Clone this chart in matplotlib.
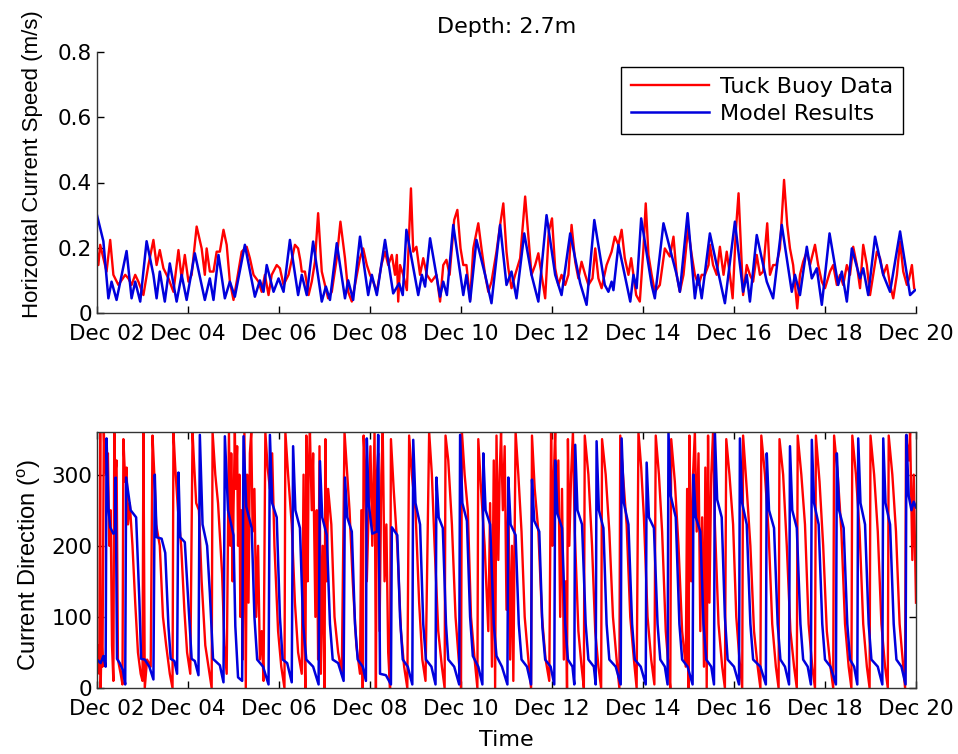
import matplotlib.pyplot as plt
import matplotlib.transforms as mtransforms
import numpy as np

plt.rcParams['font.family'] = ['DejaVu Sans']
plt.rcParams['font.size'] = 16
plt.rcParams['mathtext.fontset'] = 'custom'
plt.rcParams['mathtext.rm'] = 'Liberation Sans'

# x axis: days after Dec 02 00:00
day_ticks = [0, 2, 4, 6, 8, 10, 12, 14, 16, 18]
day_labels = ['Dec 02', 'Dec 04', 'Dec 06', 'Dec 08', 'Dec 10',
              'Dec 12', 'Dec 14', 'Dec 16', 'Dec 18', 'Dec 20']

# horizontal current speed, buoy (day, m/s)
speed_obs = [
    (0.00, 0.183), (0.03, 0.147), (0.07, 0.209), (0.14, 0.168), (0.21, 0.127), (0.29, 0.224),
    (0.36, 0.117), (0.47, 0.086), (0.62, 0.117), (0.69, 0.106), (0.76, 0.086), (0.84, 0.117),
    (0.91, 0.096), (1.02, 0.055), (1.13, 0.147), (1.24, 0.224), (1.31, 0.147), (1.38, 0.193),
    (1.46, 0.137), (1.57, 0.106), (1.68, 0.065), (1.79, 0.193), (1.86, 0.106), (1.93, 0.178),
    (2.01, 0.096), (2.08, 0.117), (2.19, 0.265), (2.30, 0.198), (2.37, 0.117), (2.41, 0.198),
    (2.48, 0.127), (2.56, 0.127), (2.63, 0.188), (2.70, 0.188), (2.78, 0.255), (2.85, 0.209),
    (2.92, 0.096), (3.00, 0.040), (3.07, 0.096), (3.18, 0.188), (3.29, 0.203), (3.36, 0.168),
    (3.44, 0.117), (3.55, 0.096), (3.62, 0.065), (3.69, 0.117), (3.77, 0.055), (3.84, 0.117),
    (3.95, 0.147), (4.02, 0.137), (4.10, 0.086), (4.21, 0.117), (4.35, 0.209), (4.42, 0.198),
    (4.47, 0.160), (4.50, 0.127), (4.57, 0.127), (4.65, 0.055), (4.72, 0.096), (4.79, 0.157),
    (4.86, 0.306), (4.94, 0.127), (5.01, 0.086), (5.08, 0.045), (5.16, 0.065), (5.27, 0.168),
    (5.35, 0.280), (5.45, 0.168), (5.52, 0.065), (5.60, 0.035), (5.67, 0.086), (5.78, 0.168),
    (5.85, 0.198), (5.93, 0.147), (6.00, 0.117), (6.07, 0.096), (6.15, 0.065), (6.25, 0.147),
    (6.33, 0.188), (6.40, 0.147), (6.48, 0.178), (6.55, 0.117), (6.59, 0.178), (6.62, 0.035),
    (6.66, 0.147), (6.73, 0.117), (6.81, 0.070), (6.90, 0.382), (6.95, 0.188), (7.02, 0.203),
    (7.10, 0.117), (7.17, 0.168), (7.25, 0.117), (7.35, 0.096), (7.46, 0.117), (7.54, 0.035),
    (7.61, 0.147), (7.68, 0.163), (7.75, 0.117), (7.85, 0.285), (7.92, 0.316), (7.99, 0.198),
    (8.05, 0.147), (8.12, 0.147), (8.20, 0.040), (8.27, 0.198), (8.38, 0.275), (8.45, 0.198),
    (8.53, 0.117), (8.60, 0.065), (8.67, 0.096), (8.78, 0.188), (8.86, 0.270), (8.93, 0.336),
    (9.00, 0.188), (9.04, 0.137), (9.11, 0.076), (9.19, 0.117), (9.30, 0.168), (9.41, 0.357),
    (9.48, 0.239), (9.55, 0.117), (9.63, 0.147), (9.70, 0.183), (9.77, 0.117), (9.85, 0.045),
    (9.93, 0.250), (10.00, 0.290), (10.07, 0.137), (10.14, 0.086), (10.21, 0.117), (10.29, 0.086),
    (10.36, 0.117), (10.43, 0.270), (10.51, 0.157), (10.58, 0.106), (10.65, 0.157), (10.73, 0.117),
    (10.80, 0.086), (10.89, 0.106), (10.95, 0.198), (11.02, 0.106), (11.09, 0.076), (11.20, 0.147),
    (11.31, 0.188), (11.38, 0.234), (11.46, 0.209), (11.53, 0.255), (11.60, 0.168), (11.68, 0.117),
    (11.74, 0.168), (11.85, 0.055), (11.93, 0.035), (12.01, 0.198), (12.06, 0.336), (12.12, 0.178),
    (12.19, 0.117), (12.26, 0.065), (12.37, 0.086), (12.48, 0.198), (12.59, 0.173), (12.67, 0.234),
    (12.74, 0.117), (12.81, 0.065), (12.89, 0.117), (12.99, 0.260), (13.07, 0.178), (13.14, 0.117),
    (13.22, 0.086), (13.29, 0.117), (13.36, 0.117), (13.44, 0.147), (13.47, 0.209), (13.54, 0.147),
    (13.62, 0.117), (13.69, 0.203), (13.77, 0.117), (13.84, 0.188), (13.91, 0.117), (13.97, 0.045),
    (14.04, 0.250), (14.10, 0.367), (14.17, 0.147), (14.20, 0.055), (14.28, 0.147), (14.35, 0.117),
    (14.42, 0.096), (14.50, 0.178), (14.57, 0.117), (14.64, 0.127), (14.73, 0.275), (14.79, 0.117),
    (14.86, 0.147), (14.93, 0.147), (15.01, 0.198), (15.10, 0.408), (15.17, 0.270), (15.23, 0.198),
    (15.30, 0.147), (15.39, 0.014), (15.45, 0.117), (15.52, 0.157), (15.60, 0.188), (15.67, 0.147),
    (15.78, 0.209), (15.85, 0.147), (15.93, 0.096), (16.00, 0.076), (16.11, 0.127), (16.18, 0.147),
    (16.26, 0.086), (16.33, 0.117), (16.40, 0.086), (16.48, 0.147), (16.55, 0.117), (16.62, 0.203),
    (16.70, 0.147), (16.77, 0.076), (16.84, 0.209), (16.92, 0.147), (16.99, 0.055), (17.06, 0.117),
    (17.14, 0.188), (17.21, 0.168), (17.28, 0.117), (17.36, 0.147), (17.43, 0.086), (17.50, 0.045),
    (17.58, 0.117), (17.65, 0.219), (17.72, 0.127), (17.80, 0.086), (17.85, 0.106), (17.91, 0.147),
    (17.96, 0.076),
]

# horizontal current speed, model (day, m/s)
speed_mod = [
    (0.00, 0.300), (0.14, 0.220), (0.25, 0.045), (0.32, 0.096), (0.43, 0.040), (0.65, 0.190),
    (0.76, 0.045), (0.84, 0.096), (0.95, 0.035), (1.09, 0.220), (1.24, 0.117), (1.31, 0.045),
    (1.38, 0.127), (1.49, 0.035), (1.60, 0.152), (1.75, 0.035), (1.86, 0.117), (1.97, 0.040),
    (2.15, 0.183), (2.37, 0.040), (2.48, 0.106), (2.56, 0.040), (2.67, 0.178), (2.81, 0.045),
    (2.92, 0.096), (3.03, 0.050), (3.25, 0.209), (3.47, 0.050), (3.58, 0.100), (3.66, 0.065),
    (3.73, 0.147), (3.88, 0.065), (3.99, 0.106), (4.10, 0.065), (4.24, 0.224), (4.42, 0.055),
    (4.50, 0.117), (4.61, 0.055), (4.75, 0.219), (4.94, 0.035), (5.03, 0.081), (5.12, 0.040),
    (5.27, 0.214), (5.45, 0.045), (5.52, 0.100), (5.63, 0.040), (5.78, 0.234), (5.96, 0.055),
    (6.04, 0.117), (6.15, 0.055), (6.33, 0.224), (6.51, 0.060), (6.64, 0.091), (6.72, 0.055),
    (6.80, 0.255), (7.06, 0.055), (7.14, 0.117), (7.21, 0.081), (7.32, 0.229), (7.54, 0.050),
    (7.61, 0.096), (7.69, 0.055), (7.83, 0.270), (8.05, 0.055), (8.12, 0.117), (8.20, 0.035),
    (8.34, 0.224), (8.53, 0.117), (8.67, 0.030), (8.86, 0.270), (9.00, 0.086), (9.11, 0.127),
    (9.22, 0.045), (9.39, 0.244), (9.55, 0.117), (9.70, 0.035), (9.88, 0.300), (10.07, 0.117),
    (10.21, 0.055), (10.40, 0.244), (10.62, 0.091), (10.76, 0.025), (10.93, 0.285), (11.16, 0.086),
    (11.24, 0.065), (11.31, 0.096), (11.35, 0.070), (11.46, 0.209), (11.72, 0.035), (11.79, 0.117),
    (11.86, 0.076), (11.96, 0.290), (12.19, 0.086), (12.26, 0.045), (12.45, 0.275), (12.74, 0.117),
    (12.81, 0.065), (12.98, 0.306), (13.14, 0.045), (13.21, 0.117), (13.29, 0.045), (13.47, 0.244),
    (13.80, 0.030), (14.02, 0.280), (14.20, 0.065), (14.28, 0.117), (14.35, 0.035), (14.50, 0.239),
    (14.72, 0.096), (14.86, 0.045), (15.05, 0.270), (15.27, 0.065), (15.34, 0.117), (15.45, 0.055),
    (15.60, 0.203), (15.71, 0.106), (15.82, 0.137), (15.93, 0.025), (16.10, 0.244), (16.29, 0.086),
    (16.37, 0.127), (16.48, 0.035), (16.59, 0.198), (16.77, 0.106), (16.84, 0.137), (16.95, 0.055),
    (17.10, 0.234), (17.28, 0.117), (17.43, 0.065), (17.65, 0.250), (17.87, 0.055), (17.98, 0.070),
]

# current direction, buoy (day, degrees)
dir_obs = [
    (0.00, 40), (0.03, 60), (0.05, 20), (0.07, 360), (0.08, 0), (0.10, 70), (0.12, 30), (0.15, 360),
    (0.17, 320), (0.20, 300), (0.24, 330), (0.27, 200), (0.30, 250), (0.33, 60), (0.36, 10), (0.38, 360),
    (0.40, 300), (0.43, 320), (0.46, 40), (0.52, 20), (0.56, 5), (0.58, 350), (0.62, 290), (0.65, 310),
    (0.68, 230), (0.72, 260), (0.78, 200), (0.84, 120), (0.90, 50), (0.96, 20), (1.00, 10), (1.02, 360),
    (1.05, 0), (1.10, 40), (1.18, 30), (1.22, 355), (1.26, 300), (1.30, 230), (1.38, 200), (1.45, 100),
    (1.52, 60), (1.60, 20), (1.66, 0), (1.68, 360), (1.72, 310), (1.78, 250), (1.85, 200), (1.92, 110),
    (1.98, 50), (2.05, 20), (2.10, 360), (2.13, 320), (2.18, 260), (2.24, 250), (2.30, 150), (2.38, 60),
    (2.45, 30), (2.52, 0), (2.54, 360), (2.60, 300), (2.66, 260), (2.75, 160), (2.80, 60), (2.85, 20),
    (2.90, 360), (2.93, 200), (2.95, 330), (2.98, 150), (3.00, 250), (3.03, 360), (3.05, 280), (3.08, 340),
    (3.10, 200), (3.13, 300), (3.15, 100), (3.18, 250), (3.20, 40), (3.24, 360), (3.27, 0), (3.30, 300),
    (3.33, 120), (3.36, 330), (3.39, 360), (3.42, 220), (3.46, 280), (3.50, 100), (3.54, 200), (3.58, 40),
    (3.62, 80), (3.66, 10), (3.70, 360),
    (3.75, 310), (3.80, 280), (3.85, 330), (3.90, 200), (3.98, 80), (4.05, 30), (4.12, 0), (4.14, 360),
    (4.20, 300), (4.28, 230), (4.35, 120), (4.42, 50), (4.50, 20), (4.54, 300), (4.56, 60), (4.58, 0),
    (4.60, 355), (4.63, 150), (4.65, 300), (4.68, 360), (4.72, 250), (4.75, 330), (4.80, 100), (4.83, 250),
    (4.86, 40), (4.89, 340), (4.92, 20), (4.96, 200), (5.00, 0), (5.02, 350), (5.05, 150), (5.08, 280),
    (5.15, 230), (5.22, 100), (5.30, 50), (5.38, 20), (5.44, 360), (5.48, 320), (5.55, 250), (5.62, 150),
    (5.70, 60), (5.78, 20), (5.81, 250), (5.84, 0), (5.86, 355), (5.90, 300), (5.93, 150), (5.97, 250),
    (6.01, 340), (6.05, 200), (6.10, 360), (6.13, 0), (6.15, 300), (6.18, 330), (6.21, 80), (6.25, 300),
    (6.28, 360), (6.32, 150), (6.36, 230), (6.40, 50), (6.44, 0), (6.46, 350), (6.52, 280), (6.60, 200),
    (6.68, 80), (6.75, 30), (6.82, 0), (6.86, 355), (6.92, 300), (7.00, 250), (7.08, 120), (7.15, 40),
    (7.22, 10), (7.30, 360), (7.36, 300), (7.42, 200), (7.50, 80), (7.58, 30), (7.64, 0), (7.66, 355),
    (7.72, 320), (7.80, 230), (7.88, 100), (7.95, 40), (8.00, 0), (8.02, 360), (8.08, 300), (8.15, 250),
    (8.22, 100), (8.30, 40), (8.36, 0), (8.38, 350), (8.44, 280), (8.52, 200), (8.60, 80), (8.64, 260),
    (8.68, 30), (8.72, 320), (8.75, 0), (8.78, 355), (8.82, 180), (8.85, 300), (8.88, 360), (8.92, 250),
    (8.96, 340), (9.00, 110), (9.04, 270), (9.08, 40), (9.12, 200), (9.15, 10), (9.20, 360),
    (9.26, 300), (9.33, 220), (9.40, 100), (9.48, 40), (9.54, 0), (9.56, 355), (9.62, 280), (9.70, 220),
    (9.78, 100), (9.86, 40), (9.94, 10), (9.98, 360), (10.01, 200), (10.04, 300), (10.07, 360), (10.10, 250),
    (10.14, 320), (10.18, 100), (10.22, 280), (10.26, 40), (10.30, 150), (10.33, 0), (10.35, 350), (10.38, 200),
    (10.42, 300), (10.46, 360), (10.50, 220), (10.58, 80), (10.65, 30), (10.70, 0), (10.72, 355),
    (10.80, 300), (10.88, 200), (10.95, 80), (11.02, 30), (11.08, 0), (11.10, 350), (11.18, 300), (11.26, 220),
    (11.34, 100), (11.42, 40), (11.48, 0), (11.50, 355), (11.56, 300), (11.64, 230), (11.72, 100), (11.80, 40),
    (11.86, 0), (11.90, 360), (11.96, 310), (12.02, 240), (12.10, 100), (12.18, 40), (12.25, 5), (12.28, 355),
    (12.35, 300), (12.42, 220), (12.50, 80), (12.56, 30), (12.60, 0), (12.62, 350), (12.70, 290), (12.78, 200),
    (12.86, 80), (12.94, 30), (12.97, 280), (13.00, 0), (13.02, 355), (13.06, 150), (13.10, 300), (13.14, 360),
    (13.18, 220), (13.22, 330), (13.26, 80), (13.30, 240), (13.34, 30), (13.37, 310), (13.40, 0), (13.43, 355),
    (13.46, 120), (13.50, 300), (13.54, 360), (13.58, 230), (13.66, 90), (13.74, 30), (13.80, 0), (13.83, 350),
    (13.90, 300), (13.98, 230), (14.05, 100), (14.12, 40), (14.18, 0), (14.20, 355), (14.28, 280), (14.36, 200),
    (14.44, 80), (14.52, 30), (14.58, 0), (14.60, 355), (14.68, 300), (14.76, 220), (14.84, 90), (14.92, 30),
    (14.98, 0), (15.00, 350), (15.08, 300), (15.16, 200), (15.24, 80), (15.32, 30), (15.38, 0), (15.40, 355),
    (15.48, 300), (15.56, 230), (15.64, 90), (15.72, 30), (15.78, 0), (15.80, 355), (15.88, 290), (15.96, 200),
    (16.04, 80), (16.12, 30), (16.18, 0), (16.20, 355), (16.28, 300), (16.36, 220), (16.44, 90), (16.52, 30),
    (16.58, 0), (16.60, 355), (16.68, 300), (16.76, 220), (16.84, 90), (16.92, 30), (16.98, 0), (17.00, 355),
    (17.08, 300), (17.16, 220), (17.24, 90), (17.32, 30), (17.38, 0), (17.40, 355), (17.48, 300), (17.56, 220),
    (17.64, 90), (17.72, 30), (17.76, 0), (17.78, 355), (17.84, 320), (17.87, 360), (17.90, 250), (17.92, 180),
    (17.95, 300), (18.00, 120),
]

# current direction, model (day, degrees)
dir_mod = [
    (0.00, 40), (0.08, 35), (0.14, 45), (0.19, 30),
    (0.21, 351), (0.25, 254), (0.29, 226), (0.36, 217), (0.40, 220), (0.41, 296), (0.44, 41), (0.50, 35), (0.57, 25), (0.62, 5),
    (0.64, 296), (0.74, 250), (0.80, 245), (0.86, 240), (0.93, 125), (0.97, 41), (1.05, 40), (1.15, 30), (1.24, 12),
    (1.27, 300), (1.31, 212), (1.42, 210), (1.50, 190), (1.57, 87), (1.62, 41), (1.70, 38), (1.76, 20),
    (1.79, 303), (1.83, 212), (1.93, 205), (1.99, 140), (2.08, 41), (2.15, 38), (2.23, 18),
    (2.26, 356), (2.32, 230), (2.42, 200), (2.48, 134), (2.55, 41), (2.70, 32), (2.78, 8),
    (2.81, 354), (2.88, 250), (3.00, 215), (3.04, 87), (3.10, 15), (3.19, 10),
    (3.22, 354), (3.28, 255), (3.40, 225), (3.46, 100), (3.52, 40), (3.65, 30), (3.77, 5),
    (3.80, 356), (3.85, 260), (3.95, 240), (4.02, 100), (4.08, 40), (4.18, 35), (4.28, 8),
    (4.31, 340), (4.36, 250), (4.46, 225), (4.53, 90), (4.60, 40), (4.75, 30), (4.87, 5),
    (4.90, 319), (4.95, 240), (5.05, 215), (5.12, 90), (5.18, 40), (5.30, 35), (5.42, 10),
    (5.45, 296), (5.50, 240), (5.60, 220), (5.67, 90), (5.73, 40), (5.84, 30), (5.91, 10),
    (5.93, 351), (5.97, 260), (6.05, 217), (6.15, 220), (6.18, 356), (6.22, 20), (6.35, 18), (6.46, 5),
    (6.48, 226), (6.60, 215), (6.66, 100), (6.72, 40), (6.83, 30), (6.93, 5),
    (6.95, 349), (7.00, 260), (7.10, 230), (7.17, 90), (7.23, 40), (7.35, 30), (7.44, 5),
    (7.46, 296), (7.51, 240), (7.60, 225), (7.67, 90), (7.72, 40), (7.85, 30), (7.96, 5),
    (7.98, 356), (8.03, 260), (8.13, 235), (8.20, 100), (8.26, 45), (8.38, 30), (8.47, 5),
    (8.49, 330), (8.54, 250), (8.64, 230), (8.72, 90), (8.78, 45), (8.90, 30), (9.02, 5),
    (9.04, 296), (9.09, 230), (9.20, 215), (9.27, 90), (9.33, 40), (9.45, 30), (9.54, 5),
    (9.56, 293), (9.61, 235), (9.72, 220), (9.79, 85), (9.85, 40), (9.97, 30), (10.05, 5),
    (10.07, 320), (10.12, 245), (10.22, 225), (10.29, 90), (10.35, 40), (10.45, 30), (10.49, 5),
    (10.51, 342), (10.56, 250), (10.66, 230), (10.74, 90), (10.80, 40), (10.92, 30), (10.96, 5),
    (10.98, 347), (11.03, 250), (11.13, 225), (11.20, 90), (11.26, 40), (11.40, 30), (11.51, 5),
    (11.53, 351), (11.58, 260), (11.68, 230), (11.76, 90), (11.82, 40), (11.95, 30), (12.06, 5),
    (12.08, 317), (12.13, 240), (12.24, 225), (12.32, 90), (12.38, 40), (12.48, 30), (12.54, 5),
    (12.56, 360), (12.61, 270), (12.72, 240), (12.80, 90), (12.86, 40), (12.98, 30), (13.09, 5),
    (13.11, 300), (13.16, 240), (13.26, 220), (13.33, 90), (13.39, 40), (13.50, 30), (13.56, 5),
    (13.58, 360), (13.63, 265), (13.73, 240), (13.80, 100), (13.86, 40), (14.00, 30), (14.11, 5),
    (14.13, 351), (14.18, 260), (14.28, 230), (14.36, 90), (14.42, 40), (14.58, 30), (14.70, 5),
    (14.72, 330), (14.77, 250), (14.88, 225), (14.96, 90), (15.02, 40), (15.12, 30), (15.21, 5),
    (15.23, 340), (15.28, 250), (15.38, 225), (15.46, 90), (15.52, 40), (15.62, 30), (15.69, 5),
    (15.71, 349), (15.76, 260), (15.86, 230), (15.94, 90), (16.00, 40), (16.12, 30), (16.24, 5),
    (16.26, 330), (16.31, 250), (16.41, 225), (16.49, 90), (16.55, 40), (16.64, 30), (16.71, 5),
    (16.73, 351), (16.78, 260), (16.88, 230), (16.96, 90), (17.02, 40), (17.16, 30), (17.26, 5),
    (17.28, 351), (17.33, 260), (17.43, 230), (17.51, 90), (17.57, 40), (17.68, 30), (17.77, 5),
    (17.79, 356), (17.84, 270), (17.90, 250), (17.95, 262), (18.00, 254),
]


def style_axis(fig, ax, box):
    ax.set_xlim(0, 18)
    ax.set_xticks(day_ticks)
    ax.set_xticklabels(day_labels)
    ax.tick_params(axis='x', pad=8)
    ax.tick_params(direction='in', length=5, width=1, colors='black',
                   top=box, right=box, labelsize=15.5)
    for sp in ax.spines.values():
        sp.set_color('#333333')
        sp.set_linewidth(1.0)
    if not box:
        ax.spines['top'].set_visible(False)
        ax.spines['right'].set_visible(False)
    # the first date label sits a little right of its tick, clear of the y labels
    first = ax.get_xticklabels()[0]
    first.set_transform(first.get_transform()
                        + mtransforms.ScaledTranslation(0.10, 0, fig.dpi_scale_trans))


def main():
    fig = plt.figure(figsize=(9.58, 7.54), dpi=100)
    ax1 = fig.add_axes([97 / 958, 1 - 313 / 754, 819 / 958, 261 / 754])
    ax2 = fig.add_axes([97 / 958, 1 - 688 / 754, 819 / 958, 256 / 754])

    t, v = np.array(speed_obs).T
    ax1.plot(t, v, color='#ff0000', lw=1.7, label='Tuck Buoy Data')
    t, v = np.array(speed_mod).T
    ax1.plot(t, v, color='#0000dd', lw=1.8, label='Model Results')
    ax1.set_ylim(0, 0.8)
    ax1.set_yticks([0, 0.2, 0.4, 0.6, 0.8])
    ax1.set_yticklabels(['0', '0.2', '0.4', '0.6', '0.8'])
    style_axis(fig, ax1, box=False)
    ax1.set_ylabel('Horizontal Current Speed (m/s)', family='Liberation Sans', fontsize=16)
    ax1.yaxis.set_label_coords(-0.066, 0.57)
    ax1.set_title('Depth: 2.7m', fontsize=16, pad=14)
    leg = ax1.legend(loc='upper right', bbox_to_anchor=(0.984, 0.943), borderaxespad=0,
                     fancybox=False, edgecolor='black', framealpha=1, fontsize=16,
                     handlelength=3.5, handletextpad=0.5, borderpad=0.45, labelspacing=0.3)
    leg.get_frame().set_linewidth(1.0)

    t, v = np.array(dir_obs).T
    ax2.plot(t, v, color='#ff0000', lw=1.7)
    t, v = np.array(dir_mod).T
    ax2.plot(t, v, color='#0000dd', lw=1.8)
    ax2.set_ylim(0, 360)
    ax2.set_yticks([0, 100, 200, 300])
    style_axis(fig, ax2, box=True)
    ax2.set_ylabel(r'Current Direction ($^{\mathrm{o}}$)', family='Liberation Sans', fontsize=17)
    ax2.yaxis.set_label_coords(-0.066, 0.48)
    ax2.set_xlabel('Time', fontsize=16, labelpad=8)

    fig.savefig('out.png', dpi=100)


if __name__ == '__main__':
    main()
